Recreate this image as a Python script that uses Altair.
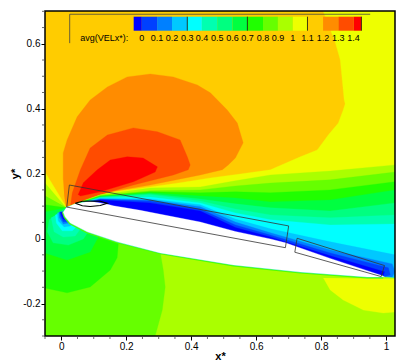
import altair as alt
import pandas as pd

X_DOM = [-0.05, 1.0274]
Y_DOM = [-0.3, 0.701]
C_BG = "#ffcc00"
C_YEL = "#eeff00"
C_ORG = "#ff8c00"
C_ORR = "#ff4c00"
C_RED = "#ff0000"

stag = [(0.015, 0.095)]

yellow_pts = [(0.806,0.701),(0.844,0.603),(0.859,0.550),(0.871,0.427),(0.874,0.415),(0.868,0.396),(0.853,0.356),
 (0.822,0.319),(0.788,0.273),(0.736,0.252),(0.644,0.212),(0.551,0.199),(0.459,0.187),(0.366,0.172),(0.274,0.159),
 (0.120,0.138),(0.043,0.110),(0.015,0.098),(-0.05,0.205),(-0.05,-0.3),(1.0274,-0.3),(1.0274,0.701)]
orange_pts = [(0.006,0.181),(0.006,0.264),(0.018,0.304),(0.049,0.375),(0.089,0.427),(0.142,0.467),(0.203,0.498),
 (0.274,0.507),(0.345,0.498),(0.419,0.473),(0.459,0.449),(0.511,0.396),(0.542,0.356),(0.560,0.295),(0.536,0.248),
 (0.514,0.227),(0.496,0.212),(0.428,0.196),(0.274,0.165),(0.120,0.139),(0.034,0.101),(0.015,0.098),(0.009,0.135)]
orangered_pts = [(0.028,0.098),(0.034,0.141),(0.059,0.212),(0.089,0.279),(0.142,0.319),(0.222,0.341),(0.296,0.329),
 (0.366,0.304),(0.388,0.252),(0.397,0.227),(0.391,0.212),(0.345,0.196),(0.222,0.165),(0.120,0.135),(0.034,0.104)]
red_pts = [(0.052,0.135),(0.068,0.172),(0.111,0.212),(0.151,0.242),(0.203,0.252),(0.252,0.248),(0.296,0.221),
 (0.289,0.205),(0.222,0.175),(0.120,0.144),(0.059,0.131)]

lower_surface = [(0.991,-0.118),(0.942,-0.118),(0.736,-0.103),(0.530,-0.081),(0.305,-0.044),(0.172,-0.010),
 (0.080,0.021),(0.028,0.048),(0.012,0.067),(0.006,0.082)]
upper_surface = [(0.015,0.095),(0.043,0.107),(0.089,0.115),(0.142,0.106),(0.160,0.101),(0.243,0.087),(0.274,0.081),
 (0.428,0.051),(0.536,0.022),(0.644,-0.001),(0.690,-0.013),(0.828,-0.061),(0.982,-0.112),(0.995,-0.118)]

fan_x = [0.043,0.120,0.274,0.428,0.536,0.644,0.828,1.0274]
lime_y = [0.108,0.135,0.156,0.159,0.178,0.196,0.208,0.227]
g66_y = [0.107,0.133,0.147,0.150,0.162,0.171,0.181,0.205]
g22_y = [0.105,0.131,0.144,0.141,0.144,0.141,0.150,0.175]
g40_y = [0.104,0.130,0.141,0.131,0.125,0.113,0.119,0.150]
g80_y = [0.104,0.128,0.138,0.122,0.107,0.095,0.085,0.110]
gb0_y = [0.104,0.127,0.135,0.116,0.091,0.073,0.064,0.073]
cyan_y = [0.104,0.125,0.128,0.110,0.079,0.058,0.042,0.045]
bc8_y = [0.104,0.124,0.122,0.104,0.060,0.030,-0.010,-0.050]
b80_y = [0.102,0.122,0.119,0.098,0.051,0.018,-0.035]
b40_y = [0.102,0.121,0.116,0.091,0.042,0.011,-0.044]
b00_y = [0.101,0.119,0.110,0.085,0.034,0.005,-0.053]
tail_wide = [(1.0274,-0.121)]
b80_tail = [(1.019,-0.078),(1.0274,-0.102),(1.019,-0.118)]
b40_tail = [(1.007,-0.090),(1.013,-0.112)]
b00_tail = [(0.995,-0.102)]

low0_pts = [(0.006,0.082),(0.012,0.067),(0.028,0.048),(0.080,0.021),(0.172,-0.010),(0.305,-0.044),(0.530,-0.081),
 (0.736,-0.103),(0.942,-0.118),(0.991,-0.118),(1.0274,-0.121),(1.0274,-0.3),(-0.05,-0.3)]
low1_pts = [(0.015,0.095),(-0.05,0.131),(-0.05,-0.3),(0.289,-0.3),(0.311,-0.22),(0.320,-0.149),(0.314,-0.097),(0.305,-0.044),
 (0.172,-0.010),(0.080,0.021),(0.028,0.048),(0.012,0.067),(0.006,0.082)]
low2_pts = [(0.015,0.095),(-0.05,0.104),(-0.05,-0.152),(0.018,-0.167),(0.089,-0.149),(0.151,-0.097),(0.172,-0.059),
 (0.176,-0.013),(0.080,0.021),(0.028,0.048),(0.012,0.067),(0.006,0.082)]
low3_pts = [(0.015,0.095),(-0.05,0.082),(-0.05,-0.044),(0.018,-0.066),(0.089,-0.041),(0.114,0.005),(0.080,0.021),
 (0.028,0.048),(0.012,0.067),(0.006,0.082)]
low4_pts = [(0.015,0.095),(-0.037,0.058),(-0.043,0.021),(-0.025,-0.013),(0.022,-0.020),(0.068,-0.001),(0.083,0.021),
 (0.028,0.048),(0.012,0.067),(0.006,0.082)]
low5_pts = [(0.006,0.082),(-0.031,0.064),(-0.022,0.021),(0.006,0.005),(0.043,0.008),(0.059,0.030),(0.028,0.048),(0.012,0.067)]
low6_pts = [(0.006,0.082),(-0.018,0.073),(-0.015,0.048),(0.003,0.024),(0.034,0.024),(0.049,0.039),(0.028,0.048),(0.012,0.067)]
low7_pts = [(0.006,0.082),(-0.012,0.079),(-0.009,0.054),(0.009,0.036),(0.028,0.039),(0.034,0.045),(0.012,0.067)]
low8_pts = [(0.006,0.082),(-0.007,0.082),(-0.006,0.065),(0.006,0.045),(0.024,0.048),(0.012,0.067)]
low9_pts = [(0.006,0.082),(-0.004,0.082),(-0.003,0.070),(0.006,0.052),(0.020,0.052),(0.012,0.067)]
low10_pts = [(0.006,0.082),(-0.002,0.082),(0.000,0.073),(0.006,0.060),(0.014,0.058),(0.012,0.067)]
patch_pts = [(0.807,-0.121),(0.828,-0.158),(0.868,-0.189),(0.930,-0.220),(0.991,-0.229),(1.0274,-0.226),(1.0274,-0.124)]

bubble_pts = [(0.043,0.109),(0.065,0.115),(0.089,0.116),(0.120,0.115),(0.142,0.109),(0.120,0.102),(0.089,0.099),(0.065,0.101),(0.043,0.109)]
box1_pts = [(0.017,0.097),(0.025,0.165),(0.700,0.039),(0.690,-0.028),(0.017,0.097)]
box2_pts = [(0.726,0.001),(0.995,-0.083),(0.985,-0.117),(0.719,-0.042),(0.726,0.001)]

legend_edges = [0.223,0.248,0.295,0.341,0.388,0.433,0.480,0.527,0.573,0.621,0.667,0.713,0.758,0.806,0.853,0.900,0.924]
legend_colors = ["#0000ff","#0040ff","#0080ff","#00c8ff","#00ffff","#00ffb0","#00ff80","#00ff40","#20ff00","#66ff00",
                 "#aaff00",C_YEL,C_BG,C_ORG,C_ORR,C_RED]
legend_labels = ["0","0.1","0.2","0.3","0.4","0.5","0.6","0.7","0.8","0.9","1","1.1","1.2","1.3","1.4"]
legend_dividers = [0.388,0.573,0.758,0.924]
legend_frame = [(0.951,0.691),(0.026,0.691),(0.026,0.602)]

x_major = [0,0.2,0.4,0.6,0.8,1]
y_major = [-0.2,0,0.2,0.4,0.6]
x_minor = [-0.05,0.05,0.1,0.15,0.25,0.3,0.35,0.45,0.5,0.55,0.65,0.7,0.75,0.85,0.9,0.95]
y_minor = [-0.3,-0.25,-0.15,-0.1,-0.05,0.05,0.1,0.15,0.25,0.3,0.35,0.45,0.5,0.55,0.65,0.7]

FONT = "Liberation Sans"
LBL = "replace(format(datum.value,'~g'),'\u2212','-')"
xs = alt.Scale(domain=X_DOM, nice=False, zero=False)
ys = alt.Scale(domain=Y_DOM, nice=False, zero=False)
xaxis = alt.Axis(values=x_major, labelExpr=LBL, title="x*", grid=False, domain=False, tickSize=4, tickColor="#000",
                 labelFont=FONT, labelFontSize=10, labelColor="#000", labelPadding=1, titleFont=FONT, titleFontSize=11,
                 titleFontWeight="bold", titleColor="#000", titlePadding=-1, labelOverlap=False)
yaxis = alt.Axis(values=y_major, labelExpr=LBL, title="y*", grid=False, domain=False, tickSize=4, tickColor="#000",
                 labelFont=FONT, labelFontSize=10, labelColor="#000", labelPadding=1, titleFont=FONT, titleFontSize=11,
                 titleFontWeight="bold", titleColor="#000", titlePadding=2, labelOverlap=False)
X = alt.X("x:Q", scale=xs, axis=xaxis)
Y = alt.Y("y:Q", scale=ys, axis=yaxis)


def frame(pts):
    return pd.DataFrame({"i": range(len(pts)), "x": [p[0] for p in pts], "y": [p[1] for p in pts]})


def poly(pts, color):
    return alt.Chart(frame(pts)).mark_line(fill=color, stroke=color, strokeWidth=0.3, clip=True).encode(
        x=X, y=Y, order=alt.Order("i:Q"))


def path(pts, color, width):
    return alt.Chart(frame(pts)).mark_line(stroke=color, strokeWidth=width, clip=True).encode(
        x=X, y=Y, order=alt.Order("i:Q"))


def band(ys_, color, left=None, tail=tail_wide):
    pts = []
    if left is not None:
        pts.append((-0.05, left))
    pts += stag + list(zip(fan_x, ys_)) + tail + lower_surface
    if left is not None:
        pts.append((-0.05, -0.3))
    return poly(pts, color)


layers = [
    alt.Chart(pd.DataFrame({"x": [0.5], "y": [0.2]})).mark_rect(fill=C_BG).encode(
        x=alt.value(0), x2=alt.value(350), y=alt.value(0), y2=alt.value(325)),
    poly(yellow_pts, C_YEL), poly(orange_pts, C_ORG), poly(orangered_pts, C_ORR), poly(red_pts, C_RED),
    band(lime_y, "#aaff00", 0.171), band(g66_y, "#66ff00", 0.131), band(g22_y, "#20ff00", 0.104),
    band(g40_y, "#00ff40", 0.082), band(g80_y, "#00ff80", 0.042), band(gb0_y, "#00ffb0"), band(cyan_y, "#00ffff"),
    band(bc8_y, "#00c8ff"), band(b80_y, "#0080ff", tail=b80_tail), band(b40_y, "#0040ff", tail=b40_tail),
    band(b00_y, "#0000ff", tail=b00_tail),
    poly(low0_pts, "#aaff00"), poly(low1_pts, "#66ff00"), poly(low2_pts, "#20ff00"), poly(low3_pts, "#00ff40"),
    poly(low4_pts, "#00ff80"), poly(low5_pts, "#00ffb0"), poly(low6_pts, "#00ffff"), poly(low7_pts, "#00c8ff"),
    poly(low8_pts, "#0080ff"), poly(low9_pts, "#0040ff"), poly(low10_pts, "#0000ff"), poly(patch_pts, C_YEL),
    path(lower_surface, "#50ff00", 3), path(lower_surface, "#00e0e0", 0.8),
    poly(upper_surface + lower_surface[1:], "#ffffff"),
    path(bubble_pts, "#000000", 1.1), path(box1_pts, "#333333", 0.8), path(box2_pts, "#333333", 0.8),
]

swatch = pd.DataFrame({"x": legend_edges[:-1], "x2": legend_edges[1:], "c": legend_colors})
layers.append(alt.Chart(swatch).mark_rect(y=5.7, y2=19.7).encode(
    x=X, x2="x2:Q", color=alt.Color("c:N", scale=None)))
layers.append(alt.Chart(pd.DataFrame({"x": legend_dividers})).mark_rule(color="#111111", strokeWidth=0.8).encode(
    x=X, y=alt.value(5.7), y2=alt.value(19.7)))
layers.append(path(legend_frame, "#444444", 0.8))
lab = pd.DataFrame({"x": legend_edges[1:16], "t": legend_labels, "y": [0.618] * 15})
layers.append(alt.Chart(lab).mark_text(font=FONT, fontSize=9, color="#000", align="center", baseline="middle").encode(
    x=X, y=Y, text="t:N"))
layers.append(alt.Chart(pd.DataFrame({"x": [0.0585], "y": [0.618], "t": ["avg(VELx*):"]})).mark_text(
    font=FONT, fontSize=9, color="#000", align="left", baseline="middle").encode(x=X, y=Y, text="t:N"))
layers.append(alt.Chart(pd.DataFrame({"x": [0.5], "y": [0.2]})).mark_rect(fill=None, stroke="#000", strokeWidth=1.5).encode(
    x=alt.value(0), x2=alt.value(350), y=alt.value(0), y2=alt.value(325)))
layers.append(alt.Chart(pd.DataFrame({"x": x_minor})).mark_rule(color="#444", strokeWidth=0.8).encode(
    x=X, y=alt.value(325), y2=alt.value(328)))
layers.append(alt.Chart(pd.DataFrame({"y": y_minor})).mark_rule(color="#444", strokeWidth=0.8).encode(
    y=Y, x=alt.value(0), x2=alt.value(-3)))

chart = alt.layer(*layers).properties(
    width=350, height=325,
    padding={"left": 37, "top": 3, "right": 4, "bottom": 26},
    autosize=alt.AutoSizeParams(type="none"),
    background="#ffffff",
).configure_view(stroke=None)

chart.save("out.html", embed_options={"renderer": "svg", "actions": False})
